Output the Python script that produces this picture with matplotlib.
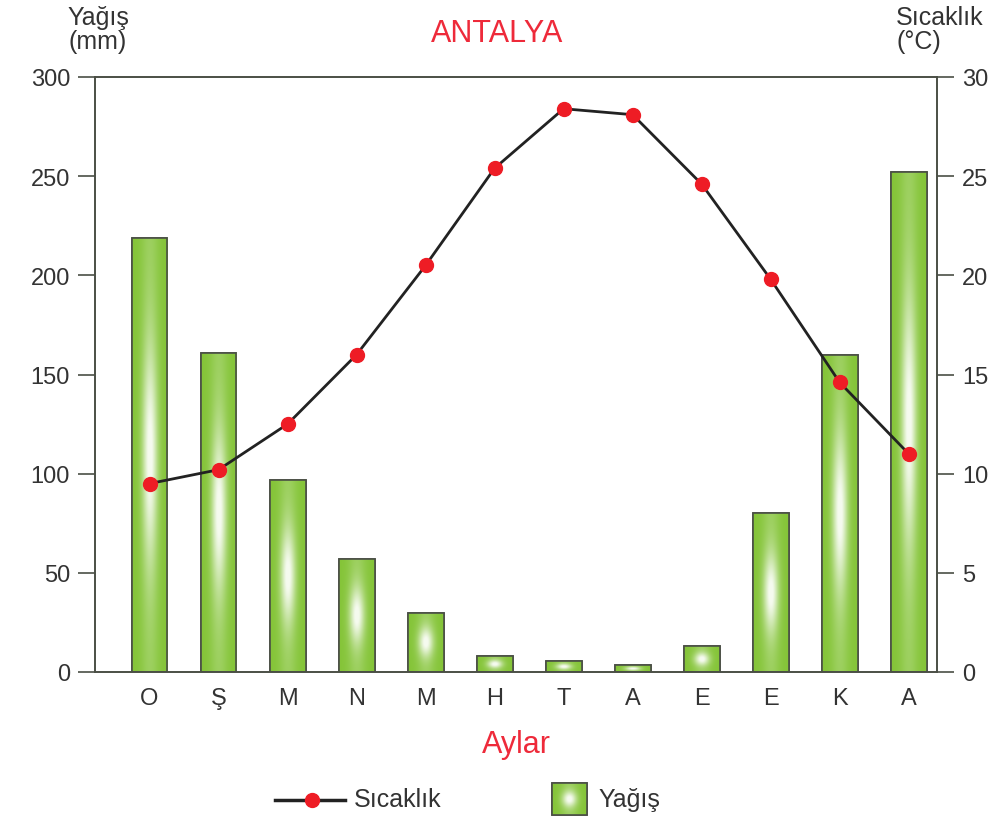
import numpy as np
import matplotlib
matplotlib.use("Agg")
import matplotlib.pyplot as plt
from matplotlib.patches import Rectangle
from matplotlib.lines import Line2D

plt.rcParams['font.family'] = ['Liberation Sans', 'DejaVu Sans']

months = ['O', 'Ş', 'M', 'N', 'M', 'H', 'T', 'A', 'E', 'E', 'K', 'A']
precip = [219, 161, 97, 57, 30, 8, 5.5, 3.5, 13, 80, 160, 252]
temp = [9.5, 10.2, 12.5, 16.0, 20.5, 25.4, 28.4, 28.1, 24.6, 19.8, 14.6, 11.0]
precip_ticks = [0, 50, 100, 150, 200, 250, 300]
temp_ticks = [0, 5, 10, 15, 20, 25, 30]

GREEN = np.array([0.52, 0.77, 0.22])
EDGE = '#4a4f45'
RED = '#ee2a3a'
TXT = '#333333'
FS = 17


def gradient_img(n=80):
    xs = np.linspace(-1, 1, n)
    ys = np.linspace(-1, 1, n)
    X, Y = np.meshgrid(xs, ys)
    t = 0.18 * np.exp(-(X / 0.5) ** 2) + 0.8 * np.exp(-(X / 0.42) ** 2 - (Y / 0.5) ** 2)
    t = np.clip(t, 0, 0.92)
    img = GREEN[None, None, :] * (1 - t[..., None]) + t[..., None]
    return img


fig = plt.figure(figsize=(10.05, 8.2), dpi=100)
ax = fig.add_axes([95 / 1005, 1 - 673 / 820, (937 - 95) / 1005, (673 - 78) / 820])

x = np.arange(len(months))
width = 0.52
bars = ax.bar(x, precip, width=width, color=GREEN, edgecolor=EDGE, linewidth=1.2, zorder=2)
img = gradient_img()
for b in bars:
    x0, y0, w, h = b.get_x(), b.get_y(), b.get_width(), b.get_height()
    im = ax.imshow(img, extent=[x0, x0 + w, y0, y0 + h], aspect='auto',
                   origin='lower', zorder=2.5, interpolation='bilinear')
    im.set_clip_path(b)
    edge = Rectangle((x0, y0), w, h, fill=False, edgecolor=EDGE, linewidth=1.2, zorder=3)
    ax.add_patch(edge)

ax.set_xlim(-0.79, 11.41)
ax.set_ylim(0, 300)
ax.set_yticks(precip_ticks)
ax.set_xticks(x)
ax.set_xticklabels(months)
for s in ax.spines.values():
    s.set_color(EDGE)
    s.set_linewidth(1.2)
ax.tick_params(axis='y', direction='out', length=12, width=1.2, color=EDGE,
               labelsize=FS, labelcolor=TXT, pad=6)
ax.tick_params(axis='x', length=0, labelsize=FS, labelcolor=TXT, pad=11)
ax.set_xlabel('Aylar', color=RED, fontsize=22, labelpad=14)

ax2 = ax.twinx()
ax2.set_ylim(0, 30)
ax2.set_yticks(temp_ticks)
for s in ax2.spines.values():
    s.set_color(EDGE)
    s.set_linewidth(1.2)
ax2.tick_params(axis='y', direction='out', length=12, width=1.2, color=EDGE,
                labelsize=FS, labelcolor=TXT, pad=6)
ax2.plot(x, temp, color='#222222', linewidth=2, marker='o', markersize=10,
         markerfacecolor='#ee1c25', markeredgecolor='#ee1c25', zorder=5)

fig.text(497 / 1005, 1 - 34 / 820, 'ANTALYA', color=RED, fontsize=22, ha='center', va='center')
fig.text(98 / 1005, 1 - 30 / 820, 'Yağış\n(mm)', color=TXT, fontsize=18, ha='center',
         va='center', linespacing=1.02)
fig.text(896 / 1005, 1 - 30 / 820, 'Sıcaklık\n(°C)', color=TXT, fontsize=18, ha='left',
         va='center', linespacing=1.02)

# legend
lax = fig.add_axes([0, 0, 1, 1], zorder=10)
lax.set_xlim(0, 1005)
lax.set_ylim(820, 0)
lax.axis('off')
lax.add_line(Line2D([275, 345], [801, 801], color='#222222', linewidth=2.5))
lax.plot([312], [801], 'o', color='#ee1c25', markersize=10)
lax.text(354, 800, 'Sıcaklık', fontsize=18, color=TXT, va='center', ha='left')
r = Rectangle((552, 784), 35, 32, facecolor=GREEN, edgecolor=EDGE, linewidth=1.2)
lax.add_patch(r)
imL = lax.imshow(img, extent=[552, 587, 816, 784], aspect='auto', zorder=2, interpolation='bilinear')
imL.set_clip_path(r)
lax.add_patch(Rectangle((552, 784), 35, 32, fill=False, edgecolor=EDGE, linewidth=1.2, zorder=3))
lax.text(598, 800, 'Yağış', fontsize=18, color=TXT, va='center', ha='left')
lax.set_xlim(0, 1005)
lax.set_ylim(820, 0)

fig.savefig('out.png', dpi=100)
